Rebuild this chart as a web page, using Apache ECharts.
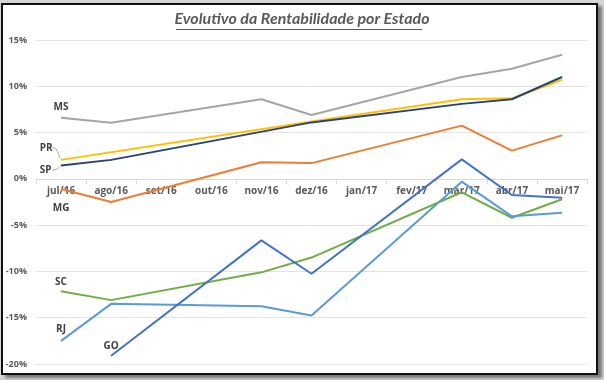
<!DOCTYPE html>
<html>
<head>
<meta charset="utf-8">
<script src="https://cdn.jsdelivr.net/npm/echarts/dist/echarts.min.js"></script>
<style>
  html, body { margin: 0; padding: 0; width: 604px; height: 380px; overflow: hidden; background: #d6d6d6; }
  #frame { position: absolute; left: 1px; top: 3px; width: 593px; height: 368px; border: 2px solid #111; background: #fff; box-shadow: 4px 3px 3px #777; }
  #chart { position: absolute; left: 0; top: 0; width: 604px; height: 380px; }
</style>
</head>
<body>
<div id="frame"></div>
<div id="chart"></div>
<script>
const titleText = 'Evolutivo da Rentabilidade por Estado';
const categories = ['jul/16','ago/16','set/16','out/16','nov/16','dez/16','jan/17','fev/17','mar/17','abr/17','mai/17'];
const yTicks = [-20, -15, -10, -5, 0, 5, 10, 15];

const MS = [6.6, 6.05, null, null, 8.6, 6.9, null, null, 11.0, 11.9, 13.4];
const PR = [2.05, null, null, null, null, 6.2, null, null, 8.6, 8.7, 10.7];
const SP = [1.45, 2.05, null, null, null, 6.1, null, null, 8.1, 8.6, 11.0];
const MG = [-1.1, -2.5, null, null, 1.8, 1.7, null, null, 5.75, 3.05, 4.7];
const SC = [-12.15, -13.1, null, null, -10.1, -8.5, null, null, -1.45, -4.2, -2.2];
const RJ = [-17.5, -13.5, null, null, -13.75, -14.75, null, null, -0.3, -4.05, -3.65];
const GO = [null, -19.1, null, null, -6.65, -10.25, null, null, 2.1, -1.75, -2.05];

const chart = echarts.init(document.getElementById('chart'), null, { renderer: 'canvas' });

const gridTop = 40, gridBottom = 16, H = 380;
const yMin = yTicks[0], yMax = yTicks[yTicks.length - 1];
const plotH = H - gridTop - gridBottom;
const zeroOffset = -plotH * (0 - yMin) / (yMax - yMin);

const labelFont = { fontFamily: 'Open Sans', fontSize: 10, fontWeight: 'bold', color: '#404040' };

function mkSeries(name, data, color, lbl, z) {
  let first = data.findIndex(v => v !== null);
  const d = data.map((v, i) => {
    if (i !== first) return v;
    return {
      value: v,
      label: Object.assign({ show: true, formatter: name }, labelFont, lbl.label)
    };
  });
  return {
    name: name,
    type: 'line',
    data: d,
    connectNulls: true,
    symbol: 'circle',
    symbolSize: 1,
    showSymbol: true,
    z: z,
    itemStyle: { color: color },
    lineStyle: { color: color, width: 2 },
    emphasis: { disabled: true },
    animation: false
  };
}

const option = {
  animation: false,
  graphic: [
    { type: 'text', left: 'center', top: 11, z: 10,
      style: { text: titleText, font: 'italic bold 16px Lato', fill: '#595959' } },
    { type: 'rect', shape: { x: 176, y: 29, width: 246, height: 1 }, style: { fill: '#595959' }, z: 10 }
  ],
  grid: { left: 36, right: 17, top: gridTop, bottom: gridBottom, containLabel: false },
  xAxis: {
    type: 'category',
    data: categories,
    boundaryGap: true,
    offset: zeroOffset,
    axisLine: { onZero: false, lineStyle: { color: '#d9d9d9', width: 1 } },
    axisTick: { show: true, length: 5, lineStyle: { color: '#d9d9d9' } },
    axisLabel: { fontFamily: 'Open Sans', fontSize: 10, fontWeight: 'bold', color: '#595959', margin: 7 },
    splitLine: { show: false }
  },
  yAxis: {
    type: 'value',
    min: yMin,
    max: yMax,
    interval: 5,
    axisLine: { show: false },
    axisTick: { show: false },
    axisLabel: { formatter: v => v + '%', fontFamily: 'Open Sans', fontSize: 9, fontWeight: 'bold', color: '#595959', margin: 9 },
    splitLine: { lineStyle: { color: '#e3e3e3', width: 1 } }
  },
  series: [
    mkSeries('MS', MS, '#A5A5A5', { label: { position: 'top', distance: 5 } }, 2),
    mkSeries('PR', PR, '#FFC000', { label: { position: 'left', distance: 8, offset: [0, -12] } }, 3),
    mkSeries('SP', SP, '#264478', { label: { position: 'left', distance: 9, offset: [0, 5] } }, 4),
    mkSeries('MG', MG, '#ED7D31', { label: { position: 'bottom', distance: 14 } }, 2),
    mkSeries('SC', SC, '#70AD47', { label: { position: 'top', distance: 4 } }, 2),
    mkSeries('RJ', RJ, '#5B9BD5', { label: { position: 'top', distance: 6 } }, 2),
    mkSeries('GO', GO, '#4472C4', { label: { position: 'top', distance: 4 } }, 3)
  ]
};
chart.setOption(option);

// leader lines for PR and SP labels, anchored on the library's pixel conversion
const prPt = chart.convertToPixel({ seriesIndex: 1 }, [0, PR[0]]);
const spPt = chart.convertToPixel({ seriesIndex: 2 }, [0, SP[0]]);
chart.setOption({
  graphic: [
    { type: 'text', left: 'center', top: 11, z: 10,
      style: { text: titleText, font: 'italic bold 16px Lato', fill: '#595959' } },
    { type: 'rect', shape: { x: 176, y: 29, width: 246, height: 1 }, style: { fill: '#595959' }, z: 10 },
    { type: 'polyline', z: 1, shape: { points: [[prPt[0] - 9, prPt[1] - 12], [prPt[0] - 5, prPt[1] - 11], [prPt[0] - 1, prPt[1] - 1]], smooth: 0.3 },
      style: { stroke: '#a6a6a6', lineWidth: 1, fill: null } },
    { type: 'polyline', z: 1, shape: { points: [[spPt[0] - 9, spPt[1] + 5], [spPt[0] - 5, spPt[1] + 4], [spPt[0] - 1, spPt[1] + 1]], smooth: 0.3 },
      style: { stroke: '#a6a6a6', lineWidth: 1, fill: null } }
  ]
});
</script>
</body>
</html>
